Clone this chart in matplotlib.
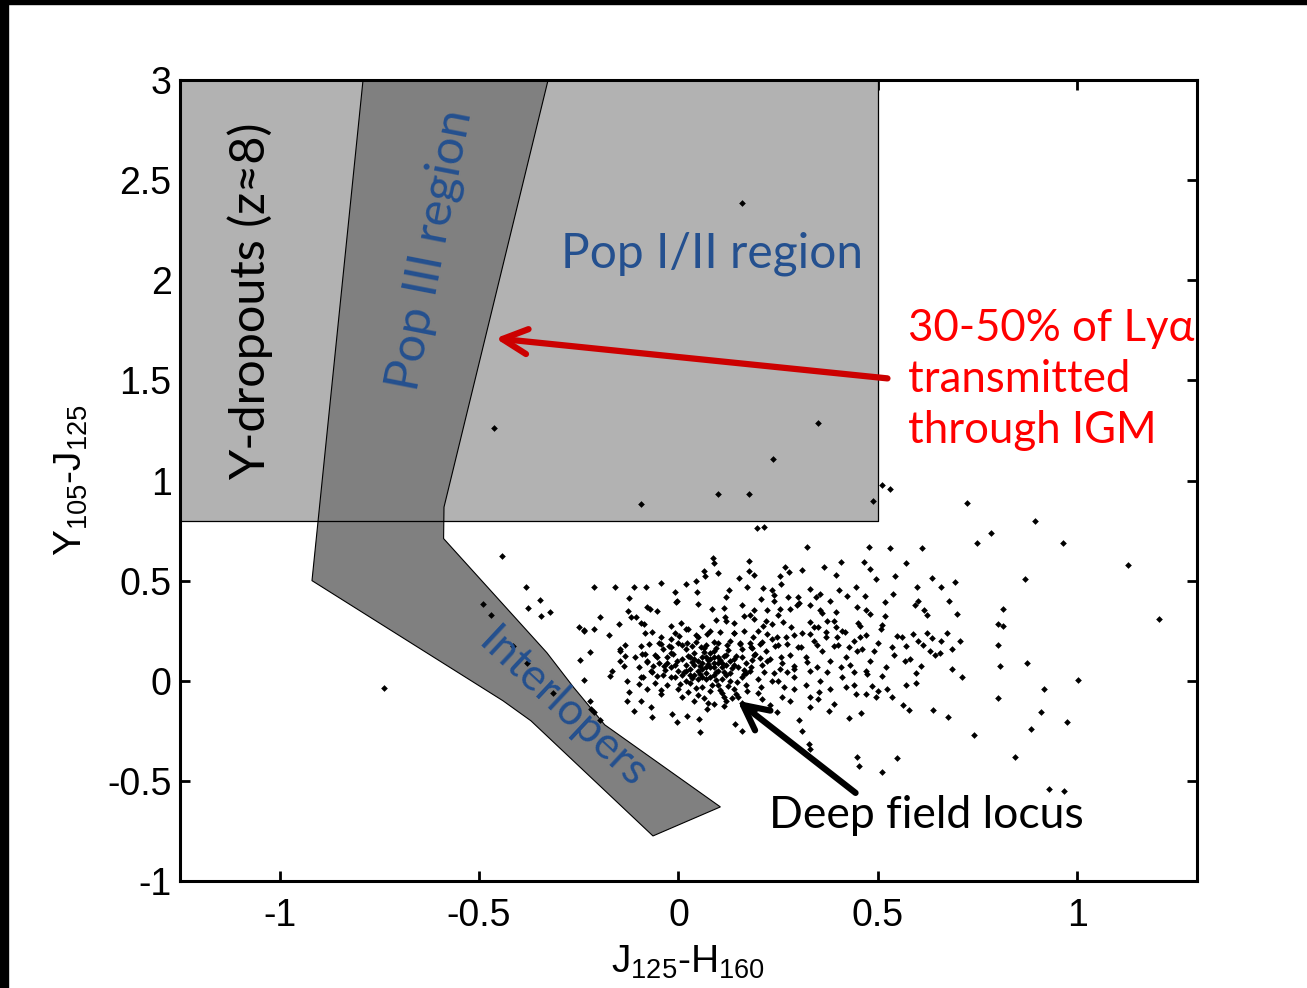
"""
plot.py - colour-colour diagram: Y105-J125 vs J125-H160 with selection regions.
"""

import matplotlib
matplotlib.use("Agg")
import matplotlib.pyplot as plt
import matplotlib.patches as mpatches
import numpy as np

OUTPUT_FILE = "out.png"

# ── selection regions (data units) ─────────────────────────────────────────
dropout_x = [-1.25, 0.5, 0.5, -1.25]
dropout_y = [0.8, 0.8, 3.0, 3.0]

pop3_x = [-0.791, -0.327, -0.588, -0.589, -0.33, -0.263, -0.185, 0.105,
          -0.064, -0.37, -0.44, -0.919]
pop3_y = [3.0, 3.0, 0.867, 0.71, 0.14, -0.033, -0.22, -0.63,
          -0.775, -0.2, -0.1, 0.5]

# ── field sources ──────────────────────────────────────────────────────────
sparse_pts = [
    (0.158, 2.385), (-0.462, 1.26), (0.349, 1.285), (0.236, 1.105), (-0.093, 0.885),
    (0.10, 0.935), (0.176, 0.935), (0.487, 0.90), (0.511, 0.98), (0.53, 0.958),
    (0.196, 0.762), (0.215, 0.77), (0.321, 0.67), (0.477, 0.667), (0.53, 0.665),
    (0.724, 0.887), (0.895, 0.798), (0.783, 0.738), (0.748, 0.69), (0.964, 0.69),
    (0.61, 0.662), (0.571, 0.587), (1.126, 0.58), (0.868, 0.51), (0.635, 0.515),
    (0.598, 0.47), (0.657, 0.467), (0.693, 0.493), (0.679, 0.398), (0.601, 0.397),
    (0.593, 0.378), (0.616, 0.353), (0.624, 0.328), (0.698, 0.335), (0.813, 0.357),
    (1.205, 0.307), (0.801, 0.285), (0.814, 0.273), (0.588, 0.233), (0.622, 0.24),
    (0.635, 0.215), (0.673, 0.24), (0.657, 0.198), (0.706, 0.198), (0.613, 0.178),
    (0.571, 0.172), (0.687, 0.16), (0.631, 0.15), (0.643, 0.13), (0.655, 0.137),
    (0.801, 0.177), (0.567, 0.10), (0.607, 0.073), (0.805, 0.073), (0.875, 0.088),
    (0.596, 0.04), (0.687, 0.057), (0.712, 0.018), (1.002, 0.002), (0.917, -0.043),
    (0.57, -0.02), (0.595, -0.013), (0.80, -0.087), (0.564, -0.12), (0.578, -0.147),
    (0.637, -0.147), (0.908, -0.155), (0.677, -0.18), (0.973, -0.207), (0.884, -0.24),
    (0.74, -0.273), (0.843, -0.382), (0.928, -0.54), (0.966, -0.55),
    (-0.442, 0.625), (-0.382, 0.47), (-0.49, 0.383), (-0.471, 0.328), (-0.378, 0.362),
    (-0.347, 0.405), (-0.345, 0.323), (-0.323, 0.345), (-0.416, 0.175), (-0.381, 0.087),
    (-0.314, -0.062), (-0.739, -0.038), (-0.25, 0.27), (-0.238, 0.255), (-0.248, 0.105),
    (-0.221, -0.103), (-0.219, -0.142), (-0.213, -0.158), (-0.196, -0.195),
    (0.448, -0.383), (0.452, -0.425), (0.511, -0.455), (0.549, -0.387),
    (0.327, -0.317), (0.331, -0.342), (0.31, -0.25), (0.302, -0.197),
]

locus_pts = [
    (0.086, 0.613), (0.09, 0.587), (0.176, 0.597), (0.407, 0.592), (0.465, 0.592),
    (0.366, 0.57), (0.266, 0.57), (0.064, 0.547), (0.066, 0.522), (0.10, 0.538),
    (0.176, 0.55), (0.19, 0.528), (0.278, 0.542), (0.309, 0.553), (0.48, 0.558),
    (0.152, 0.513), (0.254, 0.522), (0.396, 0.528), (0.494, 0.508), (0.542, 0.522),
    (-0.045, 0.488), (-0.213, 0.467), (-0.159, 0.467), (-0.112, 0.467), (-0.081, 0.467),
    (0.018, 0.483), (0.045, 0.497), (0.126, 0.455), (0.172, 0.47), (0.212, 0.463),
    (0.234, 0.452), (0.258, 0.485), (0.329, 0.458), (0.354, 0.433), (0.403, 0.455),
    (0.445, 0.467), (0.539, 0.432), (-0.008, 0.445), (0.047, 0.442), (0.119, 0.417),
    (0.206, 0.408), (0.239, 0.428), (0.275, 0.417), (0.303, 0.387), (0.346, 0.417),
    (0.38, 0.40), (0.423, 0.422), (0.467, 0.425), (0.518, 0.395), (-0.125, 0.412),
    (-0.007, 0.395), (0.048, 0.383), (0.085, 0.358), (0.115, 0.363), (0.189, 0.355),
    (0.222, 0.353), (0.254, 0.358), (0.298, 0.38), (0.355, 0.355), (0.394, 0.342),
    (0.447, 0.37), (0.47, 0.353), (0.479, 0.333), (0.519, 0.323), (-0.126, 0.347),
    (-0.079, 0.367), (-0.055, 0.347), (-0.196, 0.317), (-0.12, 0.317), (-0.095, 0.287),
    (-0.15, 0.283), (-0.02, 0.272), (0.007, 0.287), (0.024, 0.258), (0.06, 0.272),
    (0.093, 0.305), (0.116, 0.32), (0.139, 0.288), (0.164, 0.325), (0.189, 0.308),
    (0.212, 0.272), (0.235, 0.283), (0.263, 0.295), (0.281, 0.267), (0.33, 0.292),
    (0.34, 0.267), (0.373, 0.30), (0.396, 0.27), (0.455, 0.273), (0.507, 0.258),
    (-0.238, 0.25), (-0.213, 0.258), (-0.175, 0.228), (-0.085, 0.237), (-0.066, 0.242),
    (-0.045, 0.217), (0.001, 0.225), (0.043, 0.23), (0.072, 0.233), (0.104, 0.242),
    (0.139, 0.237), (0.164, 0.247), (0.186, 0.22), (0.223, 0.233), (0.248, 0.217),
    (0.29, 0.23), (0.331, 0.233), (0.371, 0.242), (0.398, 0.22), (0.417, 0.242),
    (0.455, 0.22), (0.549, 0.225), (-0.133, 0.178), (-0.095, 0.175), (-0.045, 0.183),
    (-0.02, 0.167), (0.022, 0.187), (0.057, 0.167), (0.089, 0.192), (0.122, 0.178),
    (0.154, 0.187), (0.181, 0.167), (0.21, 0.192), (0.243, 0.175), (0.273, 0.183),
    (0.306, 0.167), (0.348, 0.178), (0.39, 0.172), (0.427, 0.17), (0.448, 0.15),
    (0.49, 0.15), (0.536, 0.167), (-0.146, 0.15), (-0.146, 0.10), (-0.133, 0.125),
    (-0.166, 0.05), (-0.137, 0.075), (-0.171, 0.025), (-0.236, 0.005), (-0.223, 0.142),
    (-0.129, 0.0), (-0.091, 0.133), (-0.079, 0.092), (-0.053, 0.117), (-0.037, 0.075),
    (-0.066, 0.042), (-0.095, 0.017), (-0.10, -0.017), (-0.079, -0.042), (-0.125, -0.058),
    (-0.129, -0.10), (-0.095, -0.10), (-0.112, -0.153), (-0.066, -0.183), (-0.07, -0.133),
    (-0.045, -0.067), (-0.02, 0.017), (-0.003, 0.10), (-0.016, -0.167), (-0.003, -0.208),
    (0.022, -0.175), (0.051, -0.192), (0.055, -0.258), (0.072, -0.142), (0.089, -0.117),
    (0.114, -0.083), (0.141, -0.217), (0.16, -0.253), (0.21, -0.092), (0.246, -0.158),
    (0.264, -0.033), (0.29, 0.017), (0.33, -0.133), (0.331, -0.083), (0.352, -0.058),
    (0.356, 0.0), (0.377, -0.15), (0.39, -0.117), (0.427, -0.187), (0.457, -0.162),
    (0.419, -0.033), (0.444, -0.067), (0.469, -0.067), (0.486, -0.025), (0.494, -0.083),
    (0.524, -0.042), (0.536, -0.083), (0.511, 0.025), (0.472, 0.033), (0.44, 0.042),
    (0.407, 0.067), (0.373, 0.042), (0.348, 0.067), (0.323, 0.092), (0.29, 0.075),
    (0.256, 0.117), (0.273, 0.042), (0.235, 0.0), (0.223, 0.10), (0.193, 0.133),
    (0.181, 0.067), (0.206, -0.033), (0.172, -0.05), (0.147, -0.008), (0.164, 0.033),
    (-0.147, 0.158), (-0.106, 0.317), (-0.087, 0.283), (-0.072, 0.357), (-0.004, 0.40),
]

core_pts = [
    (0.00, 0.05), (0.02, 0.08), (0.04, 0.03), (0.06, 0.06), (0.08, 0.02),
    (0.10, 0.05), (0.12, 0.08), (0.05, 0.10), (0.07, 0.12), (0.09, 0.09),
    (0.11, 0.01), (0.03, -0.01), (0.01, 0.11), (-0.02, 0.07), (-0.04, 0.03),
    (0.13, 0.04), (0.15, 0.07), (0.06, -0.03), (0.08, -0.05), (0.10, -0.02),
    (0.04, 0.14), (0.02, 0.16), (0.09, 0.15), (0.12, 0.13), (0.14, 0.11),
    (-0.01, 0.02), (-0.03, 0.12), (0.00, -0.04), (0.05, -0.07), (0.11, -0.06),
    (0.07, 0.04), (0.09, 0.07), (0.03, 0.06), (0.06, 0.09), (0.08, 0.11),
    (0.10, 0.12), (0.13, 0.00), (0.16, 0.02), (0.17, 0.09), (0.02, 0.00),
    (-0.05, 0.09), (-0.06, 0.13), (-0.03, -0.02), (0.01, -0.08), (0.04, -0.10),
    (0.12, -0.10), (0.14, -0.04), (0.18, 0.05), (0.19, 0.13), (0.16, 0.16),
    (0.07, 0.18), (0.00, 0.19), (-0.02, 0.21), (0.05, 0.22), (0.10, 0.19),
    (0.13, 0.20), (0.03, 0.03), (0.05, 0.01), (0.07, 0.07), (0.09, 0.03),
    (0.11, 0.09), (0.04, 0.08), (0.06, 0.12), (0.08, 0.14), (-0.04, 0.16),
    (-0.07, 0.05), (-0.08, 0.10), (-0.06, -0.01), (-0.09, 0.02), (-0.10, 0.07),
    (-0.11, 0.12), (-0.05, 0.19), (0.15, -0.08), (0.17, -0.02), (0.20, 0.01),
    (0.21, 0.08), (0.22, 0.15), (0.18, 0.19), (0.14, 0.24), (0.08, 0.25),
    (0.02, 0.26), (-0.01, 0.24), (0.24, 0.04), (0.23, 0.11), (0.25, 0.18),
    (0.26, 0.09), (0.28, 0.13), (0.27, 0.22), (0.30, 0.17), (0.29, 0.06),
    (0.32, 0.12), (0.31, 0.24), (0.34, 0.20), (0.33, 0.05), (0.36, 0.15),
    (0.35, 0.27), (0.38, 0.10), (0.37, 0.22), (0.40, 0.18), (0.39, 0.30),
    (0.42, 0.12), (0.41, 0.25), (0.44, 0.20), (0.43, 0.08), (0.46, 0.16),
    (0.45, 0.29), (0.48, 0.10), (0.47, 0.23), (0.50, 0.19), (0.52, 0.07),
    (0.51, 0.28), (0.54, 0.13), (0.56, 0.22), (0.58, 0.11), (0.60, 0.20),
    (0.20, 0.25), (0.22, 0.30), (0.25, 0.33), (0.28, 0.36), (0.18, 0.33),
    (0.12, 0.30), (0.16, 0.38), (0.24, 0.40), (0.30, 0.42), (0.33, 0.38),
    (0.36, 0.34), (0.20, -0.06), (0.23, -0.12), (0.26, -0.08), (0.29, -0.04),
    (0.19, -0.15), (0.16, -0.11), (0.25, 0.00), (0.28, -0.10), (0.32, -0.02),
    (0.35, -0.09), (0.38, -0.04), (0.41, 0.02), (0.44, -0.02), (0.47, 0.05),
    (0.50, -0.05), (0.015, 0.045), (0.035, 0.095), (0.055, 0.035), (0.075, 0.085),
    (0.095, 0.005), (0.115, 0.045), (0.135, 0.065), (0.025, 0.125), (0.045, -0.035),
    (0.065, 0.145), (0.085, -0.02), (0.105, 0.105), (0.125, -0.025), (0.145, 0.125),
    (-0.015, 0.135), (-0.035, 0.055), (-0.055, 0.025), (0.005, -0.015), (0.165, 0.055),
    (0.185, 0.105), (0.035, 0.175), (0.095, 0.165), (0.155, 0.185), (-0.025, 0.175),
    (0.065, -0.085), (0.115, -0.125), (0.025, -0.055), (-0.045, -0.045), (0.145, -0.065),
    (0.01, 0.03), (0.03, 0.12), (0.05, 0.05), (0.07, 0.01), (0.09, 0.12),
    (0.11, 0.07), (0.13, 0.10), (0.06, 0.02), (0.08, 0.07), (0.10, 0.09),
    (-0.01, 0.08), (0.04, 0.11), (0.12, 0.03), (0.14, 0.08), (0.02, 0.05),
    (0.075, 0.105), (0.095, 0.045), (0.055, 0.075), (0.115, 0.125), (0.035, 0.015),
    (-0.03, 0.09), (0.16, 0.12), (0.17, 0.04), (0.065, 0.165), (0.125, 0.155),
    (-0.02, 0.14), (0.01, 0.18), (0.105, -0.045), (0.045, 0.195), (0.185, 0.165),
    (0.205, 0.115), (0.215, 0.045), (0.205, 0.185), (0.235, 0.21), (0.255, 0.06),
    (-0.065, 0.075), (-0.085, 0.135), (-0.075, 0.185), (0.135, -0.085), (0.075, -0.11),
]

# ── annotation text / arrows ───────────────────────────────────────────────
pop3_tip = (-0.459, 1.71)
pop3_tail = (0.524, 1.51)
locus_tip = (0.148, -0.10)
locus_tail = (0.444, -0.56)

xticks = [-1, -0.5, 0, 0.5, 1]
yticks = [-1, -0.5, 0, 0.5, 1, 1.5, 2, 2.5, 3]

LABEL_BLUE = "#24508f"
SANS = ["Lato", "DejaVu Serif"]


def main():
    plt.rcParams["font.family"] = ["Liberation Sans", "DejaVu Sans"]
    plt.rcParams["mathtext.default"] = "regular"

    fig = plt.figure(figsize=(13.07, 9.88), dpi=100)
    ax = fig.add_axes([0.1377, 0.1083, 0.7781, 0.8107])

    # slide-edge black bands (top and left)
    fig.patches.append(mpatches.Rectangle((0, 0.9955), 1, 0.0045, transform=fig.transFigure,
                                          color="black", zorder=10))
    fig.patches.append(mpatches.Rectangle((0, 0), 0.0065, 1, transform=fig.transFigure,
                                          color="black", zorder=10))

    # regions
    ax.fill(dropout_x, dropout_y, facecolor="#b2b2b2", edgecolor="none", zorder=1)
    ax.fill(pop3_x, pop3_y, facecolor="#808080", edgecolor="black", linewidth=0.8, zorder=2)
    ax.plot(dropout_x + dropout_x[:1], dropout_y + dropout_y[:1], color="black",
            linewidth=0.9, zorder=3)

    # field galaxies
    pts = np.array(sparse_pts + locus_pts + core_pts)
    ax.plot(pts[:, 0], pts[:, 1], linestyle="none", marker="D", markersize=3.4,
            color="black", markeredgewidth=0, zorder=4)

    # labels inside the plot
    ax.text(-1.074, 1.895, "Y-dropouts (z\u22488)", rotation=90, ha="center", va="center",
            fontsize=35, color="black", family=SANS, zorder=5)
    ax.text(-0.622, 2.15, "Pop III region", rotation=79, ha="center", va="center",
            fontsize=35, color=LABEL_BLUE, family=SANS, zorder=5)
    ax.text(0.083, 2.13, "Pop I/II region", ha="center", va="center",
            fontsize=34.5, color=LABEL_BLUE, family=SANS, zorder=5)
    ax.text(-0.291, -0.14, "Interlopers", rotation=-43, ha="center", va="center",
            fontsize=32, color=LABEL_BLUE, family=SANS, zorder=5)
    ax.text(0.575, 1.505, "30-50% of Ly\u03b1\ntransmitted\nthrough IGM", ha="left",
            va="center", fontsize=31.5, color="#ff0000", family=SANS, linespacing=1.3,
            zorder=5)
    ax.text(0.622, -0.675, "Deep field locus", ha="center", va="center",
            fontsize=32, color="black", family=SANS, zorder=5)

    ax.annotate("", xy=pop3_tip, xytext=pop3_tail,
                arrowprops=dict(arrowstyle="->", color="#cc0000", lw=4.5,
                                mutation_scale=45, shrinkA=0, shrinkB=0), zorder=6)
    ax.annotate("", xy=locus_tip, xytext=locus_tail,
                arrowprops=dict(arrowstyle="->", color="black", lw=4.5,
                                mutation_scale=45, shrinkA=0, shrinkB=0), zorder=6)

    # axes styling
    ax.set_xlim(-1.25, 1.3)
    ax.set_ylim(-1, 3)
    ax.set_xticks(xticks)
    ax.set_xticklabels(["-1", "-0.5", "0", "0.5", "1"])
    ax.set_yticks(yticks)
    ax.set_yticklabels(["-1", "-0.5", "0", "0.5", "1", "1.5", "2", "2.5", "3"])
    ax.set_axisbelow(True)
    ax.tick_params(direction="in", length=7, width=2, labelsize=27,
                   top=True, right=True)
    ax.tick_params(axis="x", pad=12)
    ax.tick_params(axis="y", pad=6)
    for sp in ax.spines.values():
        sp.set_linewidth(2.2)
        sp.set_zorder(7)

    ax.set_xlabel("J$_{125}$-H$_{160}$", fontsize=28, labelpad=7)
    ax.set_ylabel("Y$_{105}$-J$_{125}$", fontsize=28, labelpad=12)

    plt.savefig(OUTPUT_FILE, dpi=100)


if __name__ == "__main__":
    main()
